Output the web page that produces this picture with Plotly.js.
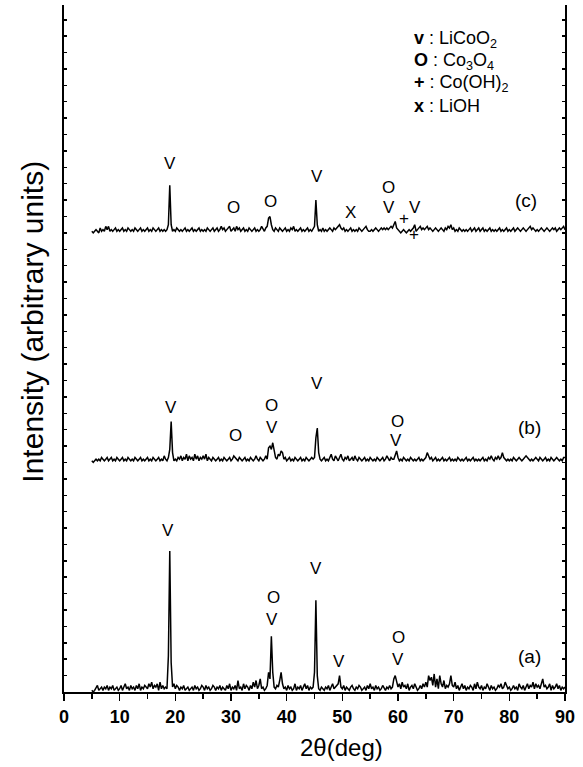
<!DOCTYPE html>
<html>
<head>
<meta charset="utf-8">
<script src="https://cdn.plot.ly/plotly-3.0.1.min.js"></script>
<style>html,body{margin:0;padding:0;background:#fff;}#chart{width:583px;height:767px;}</style>
</head>
<body>
<div id="chart"></div>
<script>
// 2-theta grid: 5.00 .. 90.00 deg, 0.25 deg step (341 points)
const thetaStart = 5, thetaStep = 0.25, thetaCount = 341;

// Intensities (arbitrary units), row = 5 degrees
const patternA = [
  1,0,1,3,4,1,2,3,1,3,2,4,1,3,2,4,1,2,3,1,
  2,4,1,3,5,2,3,1,4,2,3,1,4,2,5,1,3,2,4,3,
  2,5,3,6,2,4,3,5,1,6,2,4,2,3,2,22,86,18,3,5,
  2,4,3,1,3,2,4,1,2,3,1,2,3,1,4,2,3,1,2,4,
  3,1,4,2,3,1,2,4,3,1,3,2,4,1,3,2,1,4,2,5,
  1,3,2,4,1,7,2,3,1,5,2,4,3,1,4,2,6,3,7,2,
  4,8,2,3,1,2,4,12,8,34,12,3,2,4,3,7,12,5,2,3,
  1,4,2,3,1,2,5,1,3,2,4,1,3,5,2,4,1,3,2,3,
  12,56,10,2,1,3,2,1,3,2,4,1,3,5,2,3,4,5,10,3,
  2,4,1,3,2,1,3,4,2,1,3,2,4,3,1,2,3,1,4,2,
  5,2,3,1,4,2,3,1,2,4,2,1,3,2,4,2,3,8,10,7,
  3,5,2,6,3,4,2,5,1,3,4,2,5,3,1,2,4,2,5,3,
  6,3,10,7,9,4,11,3,8,2,10,5,3,7,2,4,3,5,10,4,
  3,6,2,4,1,3,5,2,4,1,3,2,4,3,1,5,2,6,3,2,
  4,1,3,2,5,3,1,4,2,3,1,2,4,3,5,2,3,6,4,2,
  3,1,2,4,2,3,1,5,3,2,4,1,3,5,2,4,3,6,2,5,
  3,4,2,5,8,3,4,2,3,5,1,4,2,3,5,2,4,1,3,2,
  3
];
const patternB = [
  1,0,1,2,1,2,1,3,2,1,2,3,1,2,3,1,2,1,3,2,
  1,2,3,1,2,1,3,2,1,2,1,3,2,1,2,3,1,2,1,2,
  3,1,2,1,3,2,1,2,3,1,2,1,4,2,1,3,8,25,6,1,
  2,1,3,2,4,1,3,2,5,1,4,2,3,1,5,2,4,1,3,2,
  4,2,5,1,3,2,1,3,2,1,2,3,1,2,1,3,2,1,2,3,
  1,2,4,3,2,1,3,2,1,2,3,1,2,1,3,2,1,2,4,2,
  1,3,2,1,2,4,2,9,10,8,12,6,3,2,5,4,7,6,2,3,
  1,2,3,1,2,1,3,2,1,2,3,1,2,1,3,2,1,2,3,2,
  3,15,21,6,2,1,2,3,1,2,1,3,5,2,1,4,2,1,3,5,
  2,1,3,2,4,1,2,3,1,4,2,1,3,2,1,2,3,1,2,1,
  3,2,1,2,1,3,2,1,2,3,1,2,4,2,1,3,2,2,4,7,
  3,1,2,1,3,2,1,2,1,3,2,1,2,1,2,3,1,2,1,2,
  3,6,4,2,3,1,2,3,1,2,1,2,3,1,2,1,2,3,1,2,
  1,2,1,3,2,1,2,1,2,3,1,2,1,2,3,1,2,1,2,1,
  2,3,1,2,1,3,2,4,2,1,3,2,4,2,3,6,3,2,1,2,
  1,2,1,3,2,1,2,3,2,1,2,3,4,3,2,1,2,1,2,3,
  2,1,3,2,1,2,3,1,2,1,3,2,1,2,3,2,1,2,1,3,
  3
];
const patternC = [
  1,0,1,2,1,0,3,1,2,1,4,2,4,1,2,1,2,3,1,2,
  1,2,3,1,2,1,3,2,1,2,1,3,2,1,2,3,1,2,1,2,
  3,1,2,1,3,2,1,2,3,1,2,1,2,1,2,5,29,5,1,2,
  1,3,2,1,2,1,2,3,1,2,1,2,3,1,2,1,2,3,1,2,
  1,2,1,3,2,1,2,3,1,2,3,1,2,4,2,3,1,2,3,4,
  1,2,3,1,4,2,3,1,2,3,1,2,1,3,2,1,2,3,1,2,
  1,2,4,2,1,3,4,9,10,5,2,1,3,2,1,3,2,1,2,3,
  1,2,1,3,2,4,1,2,1,2,3,1,2,1,2,3,1,2,1,3,
  4,20,5,1,2,1,3,1,2,1,2,3,2,1,3,2,3,4,5,3,
  2,3,1,2,1,2,3,1,2,1,2,1,3,2,1,2,3,4,2,1,
  1,2,1,2,3,2,1,2,3,2,3,2,3,2,3,4,3,5,7,3,
  2,1,0,1,2,1,0,1,2,1,2,3,5,1,2,3,4,2,3,2,
  3,4,2,3,2,1,2,3,2,1,2,3,2,1,3,2,4,3,5,2,
  3,1,2,1,3,2,1,2,1,2,1,2,3,1,2,3,1,2,3,1,
  2,3,1,2,1,2,3,1,2,1,2,1,2,3,1,2,1,2,3,1,
  2,1,2,3,1,2,3,2,1,2,3,2,1,2,3,4,2,3,2,1,
  2,1,2,3,2,1,2,3,2,1,2,3,2,3,1,2,3,2,3,4,
  2
];
const patterns = [patternA, patternB, patternC];
const stackOffsets = [0, 140, 280];
const sampleLabels = ['(a)', '(b)', '(c)'];
const xTickVals = [0,10,20,30,40,50,60,70,80,90];

// Phase marks: [text, 2theta, height]
const phaseMarks = [
  ['V',19.04,322.6],['O',30.36,295.2],['O',37.09,298.9],['V',45.36,314.6],['X',51.55,292.6],
  ['O',58.38,307.4],['V',58.38,295.2],['+',60.99,288.5],['V',63.14,295.6],['+',62.96,278.8],
  ['V',19.17,173.5],['O',30.84,156.2],['O',37.31,174.5],['V',37.31,161.1],['V',45.39,188.1],
  ['O',59.82,164.9],['V',59.64,153.4],
  ['V',18.68,98.5],['O',37.63,57.6],['V',37.45,44.2],['V',45.18,75.3],['V',49.49,18.3],
  ['O',60.05,33.4],['V',59.94,19.8]
];
const sampleLabelPos = [[83.62,21.8],[83.71,161.4],[82.99,299.7]];
const legendLines = [
  '<b>v</b> : LiCoO<sub>2</sub>',
  '<b>O</b> : Co<sub>3</sub>O<sub>4</sub>',
  '<b>+</b> : Co(OH)<sub>2</sub>',
  '<b>x</b> : LiOH'
];
const legendY = [397.9, 384.3, 371.0, 357.6];

const theta = [];
for (let i = 0; i < thetaCount; i++) theta.push(thetaStart + i * thetaStep);

const FONT = 'Arial, "Liberation Sans", sans-serif';
const traces = patterns.map((p, k) => ({
  type: 'scatter', mode: 'lines',
  x: theta, y: p.map(v => v + stackOffsets[k]),
  line: {color: '#000', width: 1.5},
  hoverinfo: 'skip', showlegend: false
}));

const annotations = [];
phaseMarks.forEach(m => annotations.push({
  x: m[1], y: m[2], xref: 'x', yref: 'y', text: m[0], showarrow: false,
  xanchor: 'center', yanchor: 'middle', font: {family: FONT, size: 17, color: '#000'}
}));
sampleLabelPos.forEach((p, k) => annotations.push({
  x: p[0], y: p[1], xref: 'x', yref: 'y', text: sampleLabels[k], showarrow: false,
  xanchor: 'center', yanchor: 'middle', font: {family: FONT, size: 19, color: '#000'}
}));
legendLines.forEach((t, k) => annotations.push({
  x: 62.45, y: legendY[k], xref: 'x', yref: 'y', text: t, showarrow: false,
  xanchor: 'left', yanchor: 'middle', font: {family: FONT, size: 18, color: '#000'}
}));
annotations.push({
  x: 0.554, y: -0.081, xref: 'paper', yref: 'paper', text: '2θ(deg)', showarrow: false,
  xanchor: 'center', yanchor: 'middle', font: {family: FONT, size: 24, color: '#000'}
});
annotations.push({
  x: -0.062, y: 0.539, xref: 'paper', yref: 'paper', text: 'Intensity (arbitrary units)',
  showarrow: false, textangle: -90, xanchor: 'center', yanchor: 'middle',
  font: {family: FONT, size: 30, color: '#000'}
});

const layout = {
  width: 583, height: 767,
  margin: {l: 64, r: 18, t: 5, b: 75},
  paper_bgcolor: '#fff', plot_bgcolor: '#fff',
  xaxis: {
    range: [0, 90], tickvals: xTickVals, ticks: 'outside', ticklen: 7, tickwidth: 1.5,
    tickcolor: '#000', showline: true, linecolor: '#000', linewidth: 2, mirror: false,
    showgrid: false, zeroline: false,
    minor: {dtick: 5, tick0: 0, ticks: 'outside', ticklen: 5, tickwidth: 1.5, tickcolor: '#000', showgrid: false},
    tickfont: {family: FONT, size: 18, color: '#000', weight: 'bold'}
  },
  yaxis: {
    range: [0, 419], dtick: 10, tick0: 0, ticks: 'inside', ticklen: 3, tickwidth: 1.5,
    tickcolor: '#000', showline: true, linecolor: '#000', linewidth: 2, mirror: 'ticks',
    showgrid: false, zeroline: false, showticklabels: false
  },
  annotations: annotations
};

Plotly.newPlot('chart', traces, layout, {staticPlot: true, displayModeBar: false});
</script>
</body>
</html>
